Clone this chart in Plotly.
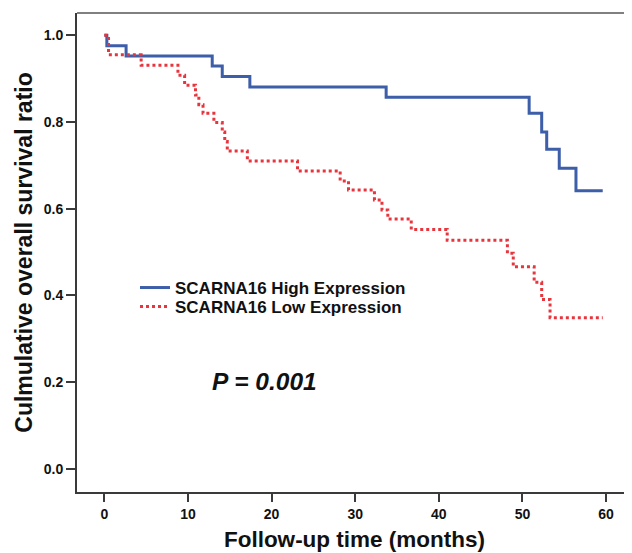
import plotly.graph_objects as go

# Kaplan-Meier step data
high_time = [0, 0.3, 2.6, 12.9, 14.1, 17.4, 33.7, 50.8, 52.3, 52.9, 54.4, 56.4, 59.6]
high_surv = [1.0, 0.976, 0.952, 0.929, 0.905, 0.881, 0.857, 0.820, 0.777, 0.737, 0.693, 0.641, 0.641]

low_time = [0, 0.5, 4.4, 8.8, 9.6, 10.9, 11.3, 11.8, 13.1, 14.1, 14.4, 14.7, 17.1, 23.1,
            28.2, 29.2, 32.3, 33.2, 33.9, 36.7, 41.0, 48.2, 48.9, 51.4, 52.3, 53.3, 59.6]
low_surv = [1.0, 0.955, 0.931, 0.908, 0.885, 0.862, 0.840, 0.820, 0.799, 0.777, 0.755, 0.733,
            0.710, 0.687, 0.664, 0.643, 0.620, 0.597, 0.576, 0.552, 0.527, 0.497, 0.466,
            0.430, 0.390, 0.348, 0.348]

series_names = ["SCARNA16 High Expression", "SCARNA16 Low Expression"]
x_ticks = [0, 10, 20, 30, 40, 50, 60]
y_ticks = [0.0, 0.2, 0.4, 0.6, 0.8, 1.0]
y_tick_text = ["0.0", "0.2", "0.4", "0.6", "0.8", "1.0"]
p_text = "P = 0.001"

BOLD = "Liberation Sans, Arial, sans-serif"

fig = go.Figure()
fig.add_trace(go.Scatter(
    x=high_time, y=high_surv, mode="lines", name="<b>" + series_names[0] + "</b>",
    line=dict(shape="hv", color="#3d5ea9", width=3), legend="legend",
))
fig.add_trace(go.Scatter(
    x=low_time, y=low_surv, mode="lines", name="<b>" + series_names[1] + "</b>",
    line=dict(shape="hv", color="#e8353d", width=3, dash="dot"), legend="legend2",
))

fig.add_annotation(
    x=12.6, y=0.20, xref="x", yref="y", text="<b><i>" + p_text + "</i></b>",
    showarrow=False, xanchor="left", yanchor="middle",
    font=dict(family=BOLD, size=24.5, color="#111111"),
)

# top frame line
fig.add_shape(type="line", xref="paper", yref="paper", x0=0, x1=1, y0=1, y1=1,
              line=dict(color="#808080", width=2))

legend_common = dict(
    xanchor="left", yanchor="top", bgcolor="rgba(0,0,0,0)", borderwidth=0,
    font=dict(family=BOLD, size=17, color="#111111"), itemwidth=30, tracegroupgap=0,
)

# page body has an 8px margin, so the figure is 8px smaller and margins shifted
fig.update_layout(
    width=624, height=545,
    margin=dict(l=69, r=0, t=5, b=61),
    paper_bgcolor="white", plot_bgcolor="white",
    showlegend=True,
    legend=dict(x=0.1045, y=0.4635, **legend_common),
    legend2=dict(x=0.1045, y=0.4238, **legend_common),
    xaxis=dict(
        range=[-3.27, 63.1], tickvals=x_ticks, ticktext=["<b>%d</b>" % v for v in x_ticks],
        showgrid=False, zeroline=False, showline=True, linecolor="#3a3a3a", linewidth=2,
        ticks="outside", ticklen=8, tickwidth=2, tickcolor="#3a3a3a",
        tickfont=dict(family=BOLD, size=14, color="#111111"),
        title=dict(text="<b>Follow-up time (months)</b>", standoff=10,
                   font=dict(family=BOLD, size=22.5, color="#111111")),
    ),
    yaxis=dict(
        range=[-0.054, 1.0515], tickvals=y_ticks, ticktext=["<b>%s</b>" % t for t in y_tick_text],
        showgrid=False, zeroline=False, showline=True, linecolor="#3a3a3a", linewidth=2,
        ticks="outside", ticklen=9, tickwidth=2, tickcolor="#3a3a3a",
        tickfont=dict(family=BOLD, size=14, color="#111111"),
        title=dict(text="<b>Culmulative overall survival ratio</b>", standoff=5,
                   font=dict(family=BOLD, size=23, color="#111111")),
    ),
)

fig.write_html("out.html")
